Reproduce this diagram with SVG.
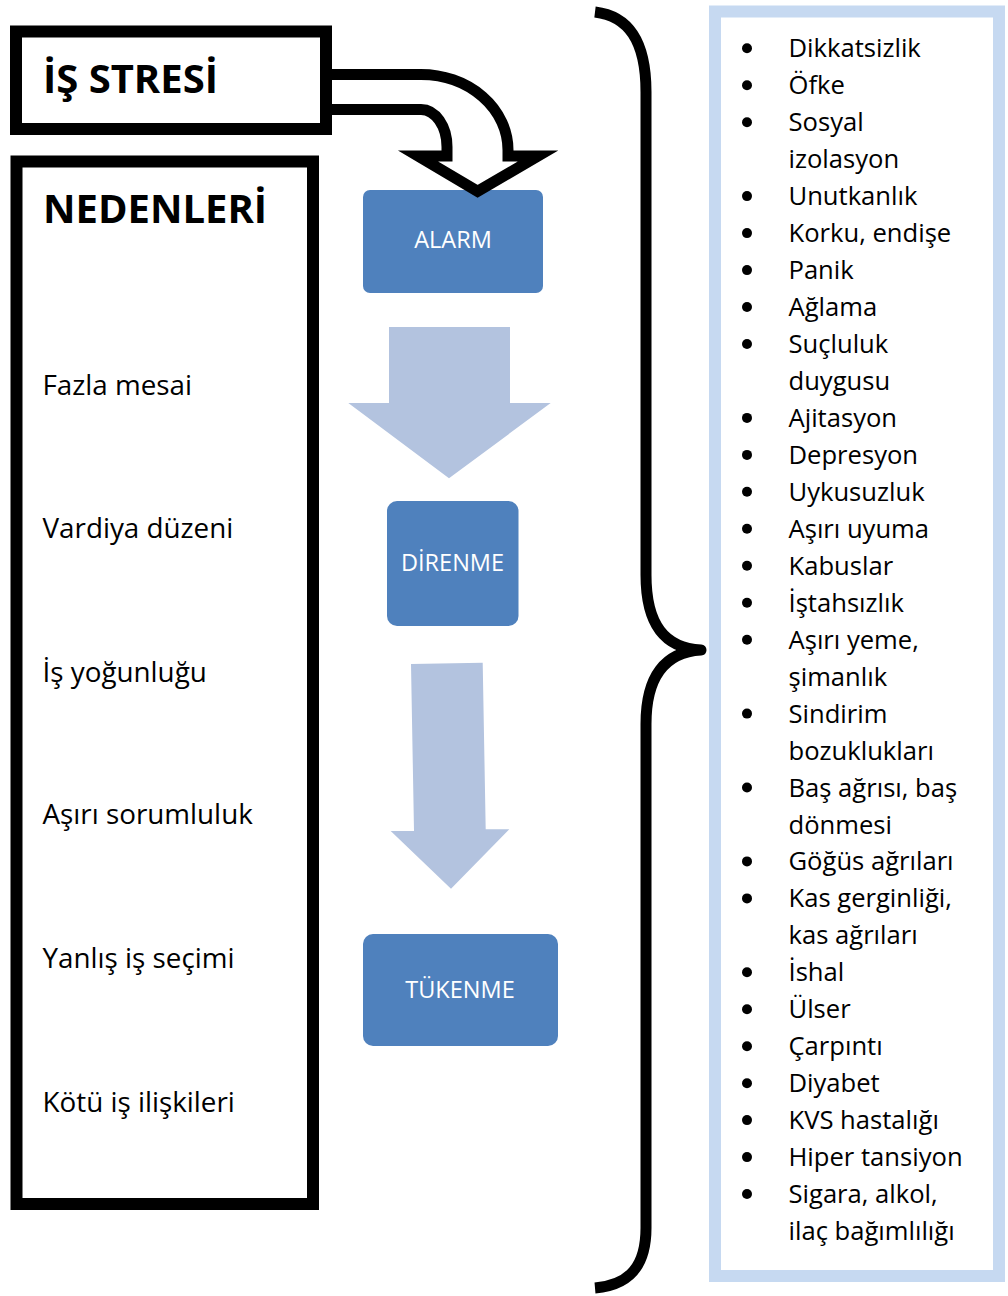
<svg xmlns="http://www.w3.org/2000/svg" width="1008" height="1296" viewBox="0 0 1008 1296">
<style>
.frame{fill:#fff;stroke:#000;stroke-width:12}
.title{font-family:"Open Sans","Noto Sans",sans-serif;font-weight:bold;font-size:40px;fill:#000}
.cause{font-family:"Open Sans","Noto Sans",sans-serif;font-size:27.8px;fill:#000}
.stage rect{fill:#4F81BD}
.stage text{font-family:"Open Sans","Noto Sans",sans-serif;font-size:23.5px;fill:#fff;text-anchor:middle}
.flow{fill:#B3C3DF}
.item{font-family:"Open Sans","Noto Sans",sans-serif;font-size:25.6px;fill:#000}
.bul{fill:#000}
</style>
<rect width="1008" height="1296" fill="#fff"/>

<g id="is-stresi">
  <rect class="frame" x="16" y="31.5" width="310" height="97.5"/>
  <text class="title" x="43" y="93">İŞ STRESİ</text>
</g>

<g id="nedenleri">
  <rect class="frame" x="16.5" y="161.5" width="296.5" height="1042.5"/>
  <text class="title" x="43" y="222.5">NEDENLERİ</text>
  <text class="cause" x="42.5" y="395">Fazla mesai</text>
  <text class="cause" x="42.5" y="538.3">Vardiya düzeni</text>
  <text class="cause" x="42.5" y="681.7">İş yoğunluğu</text>
  <text class="cause" x="42.5" y="824.3">Aşırı sorumluluk</text>
  <text class="cause" x="42.5" y="968.3">Yanlış iş seçimi</text>
  <text class="cause" x="42.5" y="1111.7">Kötü iş ilişkileri</text>
</g>

<g id="alarm" class="stage">
  <rect x="363" y="190" width="180" height="103" rx="7"/>
  <text x="453" y="248">ALARM</text>
</g>

<g id="direnme" class="stage">
  <rect x="387" y="501" width="131.5" height="125" rx="10"/>
  <text x="452.5" y="570.7">DİRENME</text>
</g>

<g id="tukenme" class="stage">
  <rect x="363" y="934" width="195" height="112" rx="10"/>
  <text x="460" y="998.3">TÜKENME</text>
</g>

<g id="belirtiler">
  <rect x="715" y="11.5" width="284" height="1264.5" fill="#fff" stroke="#C6D9F1" stroke-width="12"/>
  <g class="bul">
    <circle cx="747" cy="48.3" r="5"/>
    <circle cx="747" cy="85.3" r="5"/>
    <circle cx="747" cy="122.2" r="5"/>
    <circle cx="747" cy="196.1" r="5"/>
    <circle cx="747" cy="233.1" r="5"/>
    <circle cx="747" cy="270.1" r="5"/>
    <circle cx="747" cy="307" r="5"/>
    <circle cx="747" cy="344" r="5"/>
    <circle cx="747" cy="417.9" r="5"/>
    <circle cx="747" cy="454.9" r="5"/>
    <circle cx="747" cy="491.8" r="5"/>
    <circle cx="747" cy="528.8" r="5"/>
    <circle cx="747" cy="565.7" r="5"/>
    <circle cx="747" cy="602.7" r="5"/>
    <circle cx="747" cy="639.7" r="5"/>
    <circle cx="747" cy="713.6" r="5"/>
    <circle cx="747" cy="787.5" r="5"/>
    <circle cx="747" cy="861.4" r="5"/>
    <circle cx="747" cy="898.4" r="5"/>
    <circle cx="747" cy="972.3" r="5"/>
    <circle cx="747" cy="1009.2" r="5"/>
    <circle cx="747" cy="1046.2" r="5"/>
    <circle cx="747" cy="1083.2" r="5"/>
    <circle cx="747" cy="1120.1" r="5"/>
    <circle cx="747" cy="1157.1" r="5"/>
    <circle cx="747" cy="1194" r="5"/>
  </g>
  <g class="item">
    <text x="788.5" y="57.3">Dikkatsizlik</text>
    <text x="788.5" y="94.3">Öfke</text>
    <text x="788.5" y="131.2">Sosyal</text>
    <text x="788.5" y="168.2">izolasyon</text>
    <text x="788.5" y="205.1">Unutkanlık</text>
    <text x="788.5" y="242.1">Korku, endişe</text>
    <text x="788.5" y="279.1">Panik</text>
    <text x="788.5" y="316">Ağlama</text>
    <text x="788.5" y="353">Suçluluk</text>
    <text x="788.5" y="389.9">duygusu</text>
    <text x="788.5" y="426.9">Ajitasyon</text>
    <text x="788.5" y="463.9">Depresyon</text>
    <text x="788.5" y="500.8">Uykusuzluk</text>
    <text x="788.5" y="537.8">Aşırı uyuma</text>
    <text x="788.5" y="574.7">Kabuslar</text>
    <text x="788.5" y="611.7">İştahsızlık</text>
    <text x="788.5" y="648.7">Aşırı yeme,</text>
    <text x="788.5" y="685.6">şimanlık</text>
    <text x="788.5" y="722.6">Sindirim</text>
    <text x="788.5" y="759.5">bozuklukları</text>
    <text x="788.5" y="796.5">Baş ağrısı, baş</text>
    <text x="788.5" y="833.5">dönmesi</text>
    <text x="788.5" y="870.4">Göğüs ağrıları</text>
    <text x="788.5" y="907.4">Kas gerginliği,</text>
    <text x="788.5" y="944.3">kas ağrıları</text>
    <text x="788.5" y="981.3">İshal</text>
    <text x="788.5" y="1018.2">Ülser</text>
    <text x="788.5" y="1055.2">Çarpıntı</text>
    <text x="788.5" y="1092.2">Diyabet</text>
    <text x="788.5" y="1129.1">KVS hastalığı</text>
    <text x="788.5" y="1166.1">Hiper tansiyon</text>
    <text x="788.5" y="1203">Sigara, alkol,</text>
    <text x="788.5" y="1240">ilaç bağımlılığı</text>
  </g>
</g>

<g id="connectors">
  <path id="bent-arrow" d="M332,74.5 L421,74.5 A87,75.5 0 0 1 508,150 L508,156 L538,156 L477.6,191.3 L418,156 L447,156 L447,147 A26,37.5 0 0 0 421,109.5 L332,109.5" fill="#fff" stroke="#000" stroke-width="11" stroke-linejoin="miter"/>
  <polygon id="arrow-alarm-direnme" class="flow" points="389,327 510,327 510,403 550.7,403 449,478.3 348.3,403 389,403"/>
  <polygon id="arrow-direnme-tukenme" class="flow" points="411,664 482.7,662.7 485.7,829.3 509.3,829.3 451,888.7 390.7,831 414,831"/>
  <path id="brace" d="M595,12 C628,16 646,40 646,92 L646,575 C646,625 665,648 701,650 C665,652 646,676 646,724 L646,1228 C646,1266 630,1285 595,1288" fill="none" stroke="#000" stroke-width="11" stroke-linejoin="round"/>
</g>
</svg>
